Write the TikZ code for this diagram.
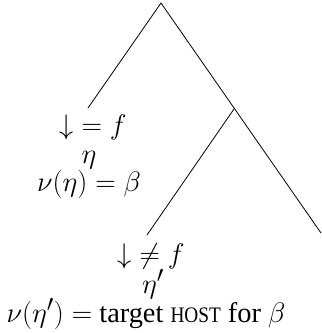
\documentclass[tikz,border=0pt]{standalone}
\usepackage{amssymb}
\usepackage{fontspec}
\setmainfont{Liberation Serif}
\tikzset{
  branch/.style={line width=0.8pt, line cap=round},
  lbl/.style={anchor=base, inner sep=0pt, font=\fontsize{24.88}{30}\selectfont},
}
\newcommand{\enlargelbl}[1]{\scalebox{1.14}{#1}}
\newcommand{\hostsc}{\scalebox{0.68}[0.78]{HOST}}
\begin{document}
\begin{tikzpicture}[x=1pt,y=-1pt]
\useasboundingbox (0,0) rectangle (322,333);
\coordinate (top) at (161,3);
\coordinate (lend) at (88,108);
\coordinate (mid) at (234,109);
\coordinate (rend) at (321,233);
\coordinate (iend) at (147,235);
\draw[branch] (lend) -- (top) -- (rend);
\draw[branch] (mid) -- (iend);
\node[lbl] (a1) at (93,134) {\enlargelbl{${\downarrow} = f$}};
\node[lbl] (a2) at (89,163) {\enlargelbl{$\eta$}};
\node[lbl] (a3) at (89,191) {\enlargelbl{$\nu(\eta) = \beta$}};
\node[lbl] (b1) at (151,263) {\enlargelbl{${\downarrow} \neq f$}};
\node[lbl] (b2) at (153,293) {\enlargelbl{$\eta'$}};
\node[lbl] (b3) at (146,322) {\enlargelbl{$\nu(\eta') =$ target \hostsc{} for $\beta$}};
\end{tikzpicture}
\end{document}
